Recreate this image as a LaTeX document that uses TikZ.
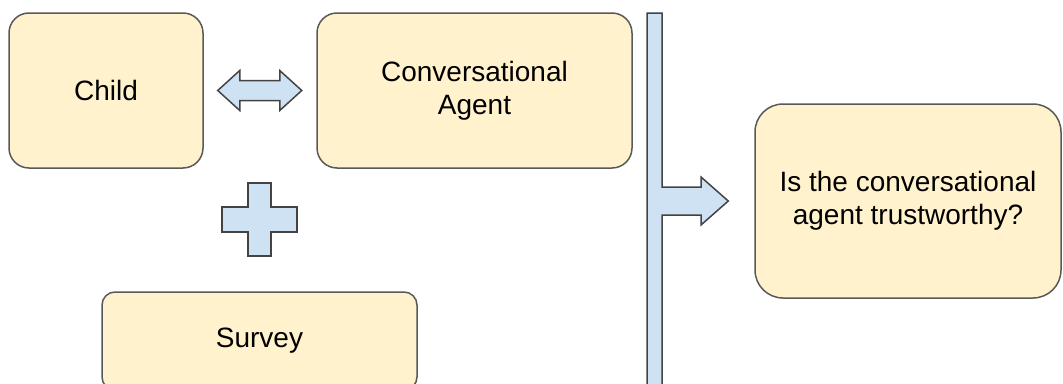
\documentclass[tikz,border=0pt]{standalone}
\usepackage{fontspec}
\setmainfont{Liberation Sans}
\definecolor{boxfill}{HTML}{FFF2CC}
\definecolor{boxline}{HTML}{595959}
\definecolor{arrowfill}{HTML}{CFE2F3}
\definecolor{arrowline}{HTML}{434343}

\begin{document}
\begin{tikzpicture}[x=1pt, y=-1pt,
  box/.style={draw=boxline, fill=boxfill, line width=1.5pt, rectangle, align=center, font=\fontsize{28}{33}\selectfont},
  blockarrow/.style={draw=arrowline, fill=arrowfill, line width=1.5pt, line join=miter}]
\useasboundingbox (0,0) rectangle (1063,383);
\clip (0,0) rectangle (1063,383);
\node (child)[box, rounded corners=20pt, minimum width=194pt, minimum height=155pt] at (106,90.5) {Child};
\node (agent)[box, rounded corners=20pt, minimum width=315pt, minimum height=155pt] at (474.5,90.5) {Conversational\\Agent};
\node (survey)[box, rounded corners=13pt, minimum width=315pt, minimum height=98pt] at (259.5,341) {Survey};
\node (trust)[box, rounded corners=28pt, minimum width=306pt, minimum height=194pt] at (908,201) {Is the conversational\\agent trustworthy?};
\draw[blockarrow] ([xshift=14pt]child.east) -- ++(22,-20) -- ++(0,10) -- ++(40,0) -- ++(0,-10) -- ++(22,20)
  -- ++(-22,20) -- ++(0,-10) -- ++(-40,0) -- ++(0,10) -- cycle;
\draw[blockarrow] (248,183) -- (271,183) -- (271,207) -- (297,207) -- (297,232) -- (271,232) -- (271,256)
  -- (248,256) -- (248,232) -- (222,232) -- (222,207) -- (248,207) -- cycle;
\draw[blockarrow] (647,13) -- (662,13) -- (662,187) -- (701,187) -- (701,177) -- ([xshift=-26pt]trust.west)
  -- (701,225) -- (701,215) -- (662,215) -- (662,395) -- (647,395) -- cycle;
\end{tikzpicture}
\end{document}
